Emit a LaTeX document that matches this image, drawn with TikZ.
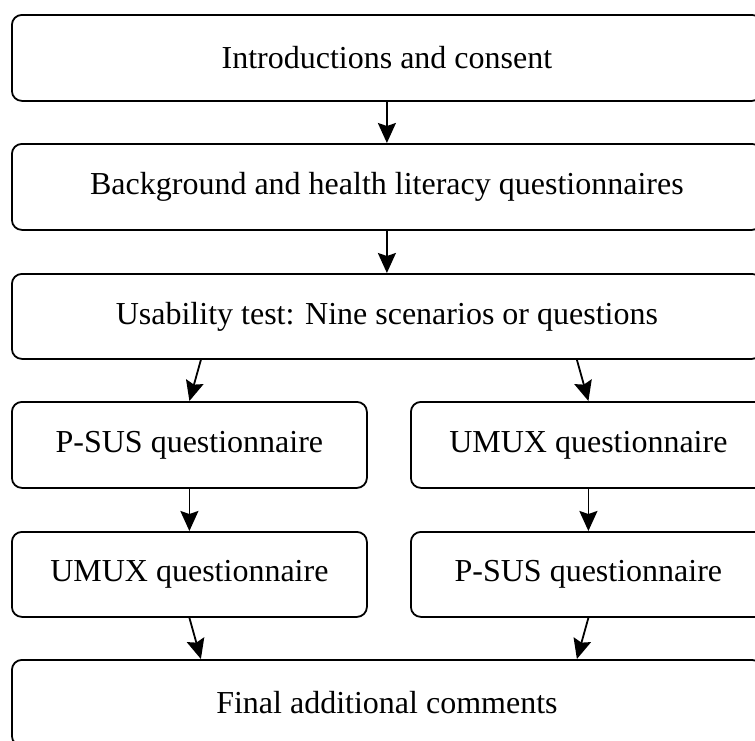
\documentclass[tikz,border=0pt]{standalone}
\usepackage{fontspec}
\setmainfont{Liberation Serif}
\usetikzlibrary{arrows.meta,positioning}
\begin{document}
\begin{tikzpicture}[x=1pt,y=-1pt,
  box/.style={draw, line width=1.8pt, rounded corners=10pt, anchor=north west,
    minimum height=86pt, inner sep=0pt, font=\fontsize{32}{36}\selectfont},
  wide/.style={box, minimum width=750pt},
  half/.style={box, minimum width=355pt},
  arr/.style={line width=1.8pt, -{Stealth[length=20pt,width=18pt,inset=3pt]}}]
\useasboundingbox (0,0) rectangle (755,740);
\node[wide] (b1) at (11,14) {Introductions and consent};
\node[wide] (b2) at (11,143) {Background and health literacy questionnaires};
\node[wide, minimum height=85pt] (b3) at (11,273) {Usability test: Nine scenarios or questions};
\node[half] (l1) at (11,401) {P-SUS questionnaire};
\node[half] (r1) at (410,401) {UMUX questionnaire};
\node[half, minimum height=85pt] (l2) at (11,531) {UMUX questionnaire};
\node[half, minimum height=85pt] (r2) at (410,531) {P-SUS questionnaire};
\node[wide] (b4) at (11,659) {Final additional comments};
\draw[arr] (b1.south) -- (b2.north);
\draw[arr] (b2.south) -- (b3.north);
\draw[arr] ([xshift=-186pt]b3.south) -- (l1.north);
\draw[arr] ([xshift=190pt]b3.south) -- (r1.north);
\draw[arr] (l1.south) -- (l2.north);
\draw[arr] (r1.south) -- (r2.north);
\draw[arr] (l2.south) -- ([xshift=-186pt]b4.north);
\draw[arr] (r2.south) -- ([xshift=190pt]b4.north);
\end{tikzpicture}
\end{document}
